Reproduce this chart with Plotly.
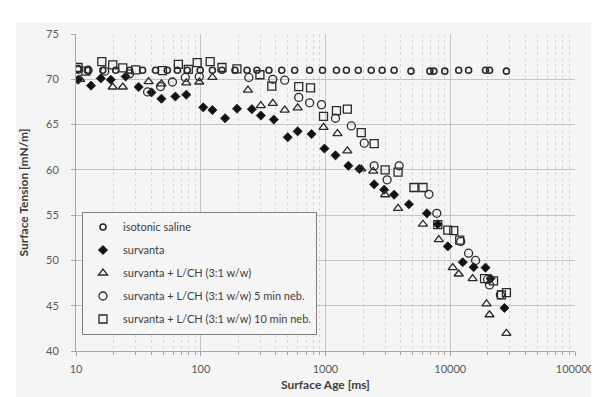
import plotly.graph_objects as go

# ---- data ----
saline_x = [10.4, 12.5, 16.4, 20.8, 26.9, 34.2, 43.4, 54, 65, 78, 99, 124, 148, 188, 235, 282, 352, 446,
            566, 746, 946, 1224, 1470, 1832, 2326, 2846, 3548, 4846, 6866, 7385, 9036, 11690, 14030,
            19170, 20640, 28200]
saline_y = [71.1, 71.0, 71.0, 71.0, 71.0, 71.0, 71.0, 71.0, 71.0, 71.0, 71.0, 71.0, 71.0, 71.0, 71.0, 71.0,
            71.0, 71.0, 71.0, 71.0, 71.0, 71.0, 71.0, 71.0, 71.0, 71.0, 71.0, 70.9, 70.9, 70.9, 70.9, 71.0,
            71.0, 71.0, 71.0, 70.9]

survanta_x = [10.4, 13.2, 15.8, 19.0, 25.0, 31.8, 40.3, 48.4, 62.6, 76.6, 104.7, 124, 156.7, 195.4, 257,
              303, 385, 498, 598, 773, 981, 1202, 1525, 1866, 2455, 2951, 3548, 4667, 6497, 7943, 9550,
              12590, 15390, 19170, 21040, 27190]
survanta_y = [69.95, 69.3, 70.1, 69.95, 70.3, 69.15, 68.55, 67.85, 68.1, 68.3, 66.9, 66.6, 65.7, 66.75, 66.7,
              66.0, 65.55, 63.6, 64.25, 63.95, 62.35, 61.6, 60.45, 60.1, 58.4, 57.8, 57.25, 56.2, 55.2, 54.0,
              51.55, 49.8, 49.25, 49.2, 48.0, 44.75]

lch_x = [10.8, 19.7, 23.7, 38.2, 48.4, 76.6, 97.3, 124, 239, 303, 378, 471, 598, 964, 1247, 1497, 1935,
         2411, 3006, 3817, 6043, 8093, 10470, 11690, 15110, 19530, 20640, 28200]
lch_y = [70.0, 69.15, 69.15, 69.75, 69.5, 69.6, 69.7, 70.2, 68.8, 67.1, 67.35, 66.6, 66.85, 64.7, 64.0, 62.1,
         60.1, 59.85, 57.25, 55.75, 54.0, 52.3, 49.2, 48.5, 48.0, 45.2, 44.0, 41.95]

neb5_x = [10.4, 12.5, 17.0, 26.9, 37.5, 47.6, 59.3, 75.2, 97.3, 243, 378, 471, 610, 746, 929, 1202, 1611,
          2046, 2455, 3119, 3890, 6745, 7800, 12130, 14030, 15960, 19900, 20640, 25240]
neb5_y = [71.1, 71.0, 70.9, 70.6, 68.6, 69.2, 69.7, 70.2, 70.3, 70.2, 70.0, 69.9, 68.0, 67.4, 67.2, 65.7,
          64.85, 62.95, 60.45, 58.9, 60.45, 57.3, 55.2, 52.1, 50.8, 50.0, 47.9, 47.3, 46.2]

neb10_x = [10.4, 12.0, 16.1, 19.7, 23.7, 30.1, 49.3, 66.2, 79.5, 93.7, 119, 148, 195, 298, 371, 610, 759,
           964, 1224, 1497, 1935, 2455, 3006, 3817, 5117, 6043, 7943, 9550, 10670, 11910, 18840, 22230,
           25720, 28200]
neb10_y = [71.3, 70.9, 71.95, 71.6, 71.25, 71.05, 70.95, 71.65, 71.1, 71.85, 71.95, 71.3, 71.15, 70.5, 69.25,
           69.2, 69.05, 65.9, 66.55, 66.7, 64.1, 62.9, 60.0, 59.75, 58.05, 58.05, 53.95, 53.35, 53.3, 52.25,
           48.0, 47.75, 46.2, 46.45]

names = ["isotonic saline", "survanta", "survanta + L/CH (3:1 w/w)",
         "survanta + L/CH (3:1 w/w) 5 min neb.", "survanta + L/CH (3:1 w/w) 10 min neb."]
x_ticks = [10, 100, 1000, 10000, 100000]
x_ticktext = ["10", "100", "1000", "10000", "100000"]
y_ticks = [40, 45, 50, 55, 60, 65, 70, 75]

FONT = "Lato, 'Open Sans', sans-serif"
EDGE = "#2a2a2a"
BG = "#f5f5f5"

fig = go.Figure()
series = [
    (saline_x, saline_y, "circle-open", 6, 1.6, None),
    (survanta_x, survanta_y, "diamond", 7, 1, "#111111"),
    (lch_x, lch_y, "triangle-up-open", 8, 1.3, None),
    (neb5_x, neb5_y, "circle-open", 8, 1.3, None),
    (neb10_x, neb10_y, "square-open", 8, 1.3, None),
]
for (xs, ys, sym, size, lw, fill), nm in zip(series, names):
    marker = dict(symbol=sym, size=size, line=dict(color=EDGE, width=lw))
    marker["color"] = fill if fill else EDGE
    fig.add_trace(go.Scatter(x=xs, y=ys, mode="markers", name=nm, marker=marker, legendgroup=nm))

fig.update_layout(
    width=599, height=397,
    margin=dict(l=68, r=29, t=26, b=54),
    paper_bgcolor=BG, plot_bgcolor=BG,
    font=dict(family=FONT, color="#404040"),
    showlegend=True,
    legend=dict(x=0.012, y=0.44, xanchor="left", yanchor="top",
                bgcolor=BG, bordercolor="#808080", borderwidth=1,
                font=dict(size=11, color="#404040"), tracegroupgap=4,
                itemwidth=30),
    shapes=[
        dict(type="rect", xref="paper", yref="paper", x0=-0.2, x1=1.2,
             y0=(343 - 14) / 317, y1=1.2, fillcolor="white", line=dict(width=0), layer="below"),
        dict(type="rect", xref="paper", yref="paper", x0=-0.2, x1=-60 / 502,
             y0=-0.2, y1=1.2, fillcolor="white", line=dict(width=0), layer="below"),
    ],
)

fig.update_xaxes(
    type="log", range=[1, 5],
    tickvals=x_ticks, ticktext=x_ticktext,
    showgrid=True, gridcolor="#c4c4c4", gridwidth=1,
    showline=True, linecolor="#a6a6a6", linewidth=1,
    ticks="outside", ticklen=4, tickcolor="#a6a6a6",
    tickfont=dict(size=11, color="#595959"),
    ticklabelstandoff=4,
    minor=dict(dtick="D1", ticks="outside", ticklen=3, tickcolor="#a6a6a6",
               showgrid=True, gridcolor="#d6d6d6", griddash="dot"),
    title=dict(text="<b>Surface Age [ms]</b>", font=dict(size=12, color="#404040"), standoff=6),
    zeroline=False,
)
fig.update_yaxes(
    range=[40, 75], tickvals=y_ticks,
    showgrid=True, gridcolor="#c4c4c4", gridwidth=1,
    showline=True, linecolor="#a6a6a6", linewidth=1,
    ticks="outside", ticklen=4, tickcolor="#a6a6a6",
    tickfont=dict(size=11, color="#595959"),
    ticklabelstandoff=10,
    title=dict(text="<b>Surface Tension [mN/m]</b>", font=dict(size=12, color="#404040"), standoff=14),
    zeroline=False,
)

fig.write_html("out.html")
